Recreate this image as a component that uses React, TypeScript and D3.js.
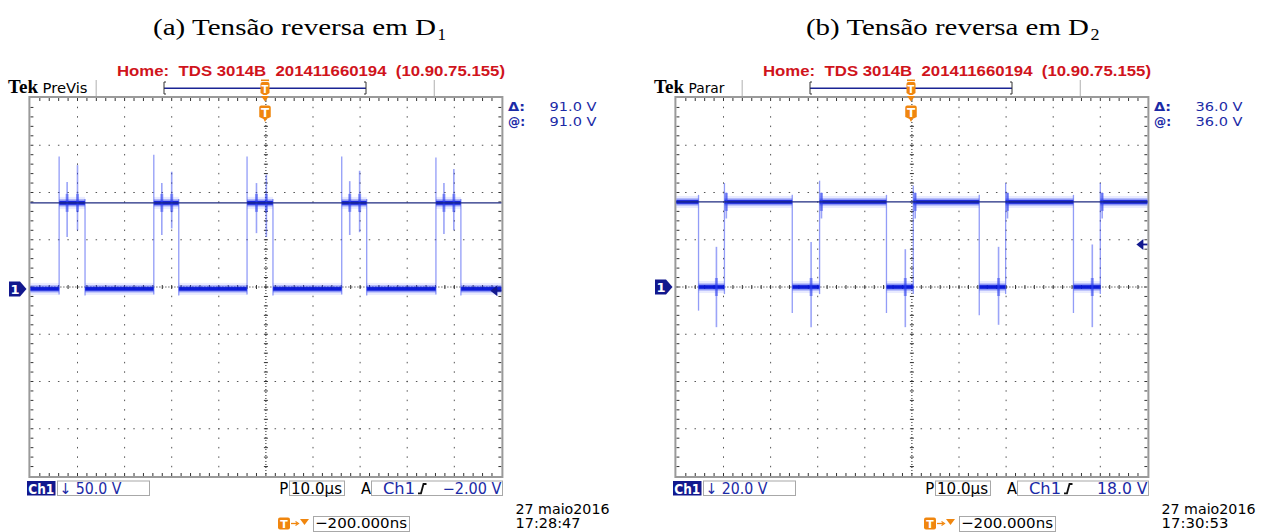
import React from "react";
import * as d3 from "d3";

type Interval = [number, number];
type Spike = [number, number, number]; // time (µs), top (V), bottom (V)

// ---------- Panel (a): reverse voltage on D1, 50 V/div, 10 µs/div ----------
const titleA = "(a) Tensão reversa em D";
const subA = "1";
const pulsesA: Interval[] = [[6.1, 11.6], [26.2, 31.5], [46.0, 51.5], [66.1, 71.4], [86.1, 91.4]];
const highA = 91;
const voltsPerDivA = 50;
const edgesA: Spike[] = [
  [6.1, 140, -6], [11.6, 95, -7],
  [26.2, 142, -6], [31.5, 95, -7],
  [46.0, 140, -6], [51.5, 95, -7],
  [66.1, 140, -6], [71.4, 95, -7],
  [86.1, 139, -6], [91.4, 95, -7],
];
const ringA: Spike[] = [
  [7.8, 113, 55], [10.0, 131, 62],
  [27.9, 112, 57], [30.0, 124, 64],
  [48.0, 112, 59], [50.1, 121, 55],
  [67.8, 114, 57], [69.9, 125, 60],
  [87.8, 112, 58], [89.9, 127, 62],
];
const cursorA = "91.0 V";
const scaleA = "50.0 V";
const trigA = "\u22122.00 V";
const trigLevelA = -2;
const statusA = "PreVis";
const dateA = "27 maio2016";
const timeA = "17:28:47";

// ---------- Panel (b): reverse voltage on D2, 20 V/div, 10 µs/div ----------
const titleB = "(b) Tensão reversa em D";
const subB = "2";
const lowsB: Interval[] = [[4.7, 10.2], [24.6, 30.4], [44.6, 50.3], [64.3, 69.9], [84.3, 90.0]];
const highB = 36;
const voltsPerDivB = 20;
const edgesB: Spike[] = [
  [4.7, 39, -10], [10.2, 44, -3],
  [24.6, 39, -11], [30.4, 45, -3],
  [44.6, 39, -11], [50.3, 43, -3],
  [64.3, 39, -12], [69.9, 44, -3],
  [84.3, 39, -11], [90.0, 44, -3],
];
const ringB: Spike[] = [
  [8.5, 17, -17], [10.6, 40, 29],
  [28.6, 19, -17], [30.8, 40, 29],
  [48.6, 16, -17], [50.7, 40, 29],
  [68.4, 17, -16], [70.3, 40, 29],
  [88.3, 18, -17], [90.4, 40, 29],
];
const cursorB = "36.0 V";
const scaleB = "20.0 V";
const trigB = "18.0 V";
const trigLevelB = 18;
const statusB = "Parar";
const dateB = "27 maio2016";
const timeB = "17:30:53";

// ---------- shared scope labels ----------
const header = "Home:  TDS 3014B  201411660194  (10.90.75.155)";
const timebase = "10.0\u00b5s";
const delay = "\u2212200.000ns";
const timeSpan: Interval = [0, 100];

const ORANGE = "#f0860e";
const NAVY = "#12188e";
const BLUE = "#1b2aa6";
const UI = "'DejaVu Sans', sans-serif";

function complement(iv: Interval[], t0: number, t1: number): Interval[] {
  const out: Interval[] = [];
  let cur = t0;
  for (const [a, b] of iv) {
    out.push([cur, a]);
    cur = b;
  }
  out.push([cur, t1]);
  return out;
}

function Txt(props: {
  x: number; y: number; t: string; len?: number; size: number; fill?: string;
  weight?: string | number; family?: string; anchor?: string;
}) {
  const { x, y, t, len, size, fill = "#000", weight = "normal", family = UI, anchor = "start" } = props;
  return (
    <text x={x} y={y} fontSize={size} fill={fill} fontWeight={weight} fontFamily={family}
      textAnchor={anchor} textLength={len} lengthAdjust={len ? "spacingAndGlyphs" : undefined}
      style={{ whiteSpace: "pre" }}>
      {t}
    </text>
  );
}

function TTag(props: { cx: number; top: number; w: number; h: number; point: number; size: number }) {
  const { cx, top, w, h, point, size } = props;
  const l = cx - w / 2, r = cx + w / 2, b = top + h;
  const d = `M${l + 2},${top} H${r - 2} Q${r},${top} ${r},${top + 2} V${b - 2} L${cx + 1.5},${b} L${cx},${b + point} L${cx - 1.5},${b} L${l},${b - 2} V${top + 2} Q${l},${top} ${l + 2},${top} Z`;
  return (
    <g>
      <path d={d} fill={ORANGE} />
      <text x={cx} y={top + h - 2.2} fontSize={size} fill="#fff" fontWeight="bold" fontFamily={UI} textAnchor="middle">T</text>
    </g>
  );
}

interface PanelProps {
  ox: number;
  highs: Interval[];
  lows: Interval[];
  highV: number;
  vdiv: number;
  groundDiv: number;
  edges: Spike[];
  ring: Spike[];
  cursor: string;
  scale: string;
  trig: string;
  trigV: number;
  status: string;
  statusLen: number;
  date: string;
  time: string;
  timeLen: number;
}

function Panel(p: PanelProps) {
  const { ox } = p;
  const gx = d3.scaleLinear().domain([0, 10]).range([30.4 + ox, 501.4 + ox]);
  const gy = d3.scaleLinear().domain([-4, 4]).range([476, 98]);
  const x = d3.scaleLinear().domain(timeSpan).range(gx.range() as [number, number]);
  const y = (v: number) => gy(v / p.vdiv + p.groundDiv);
  const levelAt = (t: number) => (p.highs.some(([a, b]) => t >= a - 0.05 && t <= b + 0.05) ? p.highV : 0);

  const minorY = d3.range(1, 40).map((k) => -4 + k / 5);
  const minorX = d3.range(1, 50).map((k) => k / 5);
  const majorX = d3.range(1, 10).filter((i) => i !== 5);
  const majorY = d3.range(-3, 4).filter((j) => j !== 0);

  const dots: JSX.Element[] = [];
  majorX.forEach((i) =>
    minorY.forEach((m, k) =>
      dots.push(<rect key={`v${i}-${k}`} x={gx(i) - 0.5} y={gy(m) - 0.75} width={1} height={1.5} fill="#555" />)
    )
  );
  majorY.forEach((j) =>
    minorX.forEach((m, k) =>
      dots.push(<rect key={`h${j}-${k}`} x={gx(m) - 0.75} y={gy(j) - 0.5} width={1.5} height={1} fill="#555" />)
    )
  );

  const ticks: JSX.Element[] = [];
  minorX.forEach((m, k) => {
    ticks.push(<line key={`tt${k}`} x1={gx(m)} x2={gx(m)} y1={gy(4)} y2={gy(4) + 3} />);
    ticks.push(<line key={`tb${k}`} x1={gx(m)} x2={gx(m)} y1={gy(-4) - 3} y2={gy(-4)} />);
    ticks.push(<line key={`tc${k}`} x1={gx(m)} x2={gx(m)} y1={gy(0) - 2} y2={gy(0) + 2} />);
  });
  minorY.forEach((m, k) => {
    ticks.push(<line key={`tl${k}`} x1={gx(0)} x2={gx(0) + 3} y1={gy(m)} y2={gy(m)} />);
    ticks.push(<line key={`tr${k}`} x1={gx(10) - 3} x2={gx(10)} y1={gy(m)} y2={gy(m)} />);
    ticks.push(<line key={`tv${k}`} x1={gx(5) - 2} x2={gx(5) + 2} y1={gy(m)} y2={gy(m)} />);
  });

  const band = (segs: Interval[], v: number, key: string) =>
    segs.map(([a, b], i) => {
      const x0 = x(a), w = x(b) - x(a), yy = y(v);
      return (
        <g key={`${key}${i}`}>
          <rect x={x0} y={yy - 6} width={w} height={12} fill="#5566ff" opacity={0.13} />
          <rect x={x0} y={yy - 3.5} width={w} height={7} fill="#2236ee" opacity={0.45} />
          <rect x={x0} y={yy - 1.8} width={w} height={3.6} fill="#0616d6" opacity={0.95} />
        </g>
      );
    });

  const sx = (v: number) => v + ox;
  const trigY = y(p.trigV);

  return (
    <g>
      {/* top status bar */}
      <Txt x={sx(8)} y={93.3} t="Tek" len={30} size={18} weight="bold" family="'Liberation Serif', serif" />
      <Txt x={sx(42.5)} y={92.5} t={p.status} len={p.statusLen} size={13.5} />
      <line x1={sx(96.2)} x2={sx(96.2)} y1={80} y2={98} stroke="#bdbdbd" strokeWidth={1.2} />
      <line x1={sx(434.3)} x2={sx(434.3)} y1={80} y2={98} stroke="#bdbdbd" strokeWidth={1.2} />
      <Txt x={sx(117)} y={75.5} t={header} len={388} size={15} weight="bold" fill="#d0141c" family="'Liberation Sans', Arial, sans-serif" />
      <line x1={sx(164)} x2={sx(366)} y1={88.3} y2={88.3} stroke="#1a2494" strokeWidth={1.4} />
      <path d={`M${sx(166)},82 H${sx(164)} V94 H${sx(166)}`} fill="none" stroke="#333" strokeWidth={1} />
      <path d={`M${sx(364)},82 H${sx(366)} V94 H${sx(364)}`} fill="none" stroke="#333" strokeWidth={1} />

      {/* graticule */}
      <g>{dots}</g>
      <line x1={gx(5)} x2={gx(5)} y1={gy(4)} y2={gy(-4)} stroke="#222" strokeWidth={1} strokeDasharray="1 2" />
      <line x1={gx(0)} x2={gx(10)} y1={gy(0)} y2={gy(0)} stroke="#222" strokeWidth={1} strokeDasharray="1 2" />
      <g stroke="#333" strokeWidth={1}>{ticks}</g>
      <rect x={gx(0) - 1} y={gy(4) - 1} width={gx(10) - gx(0) + 2} height={gy(-4) - gy(4) + 2} fill="none" stroke="#9a9a9a" strokeWidth={2} />

      {/* trigger position markers */}
      <rect x={sx(261)} y={79.5} width={8} height={1.6} fill={ORANGE} />
      <TTag cx={sx(265)} top={82} w={9} h={13} point={0} size={10} />
      <path d={`M${sx(261)},96 L${sx(269)},96 L${sx(265)},101.5 Z`} fill={ORANGE} />
      <TTag cx={sx(265)} top={105.5} w={11.5} h={13.5} point={3} size={12} />

      {/* waveform */}
      <g>
        {band(p.lows, 0, "lo")}
        {band(p.highs, p.highV, "hi")}
      </g>
      <g stroke="#3a4cf2" strokeWidth={1.3} opacity={0.55}>
        {p.edges.map(([t, top, bot], i) => (
          <line key={`e${i}`} x1={x(t)} x2={x(t)} y1={y(top)} y2={y(bot)} />
        ))}
      </g>
      <g>
        {p.ring.map(([t, top, bot], i) => {
          const lv = y(levelAt(t));
          return (
            <g key={`r${i}`}>
              <line x1={x(t)} x2={x(t)} y1={y(top)} y2={y(bot)} stroke="#3a4cf2" strokeWidth={1.6} opacity={0.5} />
              <rect x={x(t) - 1.5} y={lv - 9} width={3} height={18} fill="#2236ee" opacity={0.45} />
            </g>
          );
        })}
      </g>
      {/* cursor line */}
      <line x1={gx(0)} x2={gx(10)} y1={y(p.highV)} y2={y(p.highV)} stroke="#1e2a80" strokeWidth={1.3} />

      {/* channel ground marker */}
      <path d={`M${sx(9)},${y(0) - 7.5} H${sx(20)} L${sx(26.5)},${y(0)} L${sx(20)},${y(0) + 7.5} H${sx(9)} Z`} fill={NAVY} />
      <text x={sx(15)} y={y(0) + 5} fontSize={13} fontWeight="bold" fill="#fff" fontFamily={UI} textAnchor="middle">1</text>
      {/* trigger level marker */}
      <path d={`M${gx(10) - 11},${trigY} L${gx(10) - 4},${trigY - 5.5} L${gx(10) - 4},${trigY + 5.5} Z`} fill={NAVY} />
      <line x1={gx(10) - 5} x2={gx(10)} y1={trigY} y2={trigY} stroke={NAVY} strokeWidth={1.8} />

      {/* cursor readout */}
      <Txt x={sx(508)} y={111} t={"\u0394:"} len={17} size={12.5} fill={BLUE} weight="bold" />
      <Txt x={sx(596.5)} y={111} t={p.cursor} len={47} size={12.5} fill={BLUE} anchor="end" />
      <Txt x={sx(508)} y={126} t="@:" len={17} size={12.5} fill={BLUE} weight="bold" />
      <Txt x={sx(596.5)} y={126} t={p.cursor} len={47} size={12.5} fill={BLUE} anchor="end" />

      {/* bottom readouts */}
      <rect x={sx(27)} y={481} width={28.5} height={14.5} fill={NAVY} />
      <Txt x={sx(28.3)} y={494.3} t="Ch1" len={26} size={14.5} fill="#fff" weight="bold" />
      <rect x={sx(57.5)} y={481} width={92} height={14.5} fill="none" stroke="#a8a8a8" strokeWidth={1} />
      <Txt x={sx(59.5)} y={494} t={`\u2193 ${p.scale}`} len={62} size={15} fill={BLUE} />

      <Txt x={sx(279.3)} y={494.3} t="P" len={9} size={15} />
      <rect x={sx(289.5)} y={481} width={55} height={14.5} fill="none" stroke="#a8a8a8" strokeWidth={1} />
      <Txt x={sx(291)} y={494} t={timebase} len={51} size={15} />

      <Txt x={sx(361)} y={494.3} t="A" len={10} size={15} />
      <rect x={sx(371.5)} y={481} width={131} height={14.5} fill="none" stroke="#a8a8a8" strokeWidth={1} />
      <Txt x={sx(383)} y={494} t="Ch1" len={32} size={15} fill={BLUE} />
      <path d={`M${sx(418)},493.3 H${sx(421)} L${sx(423.5)},484 H${sx(426.5)}`} fill="none" stroke="#111" strokeWidth={1.8} />
      <Txt x={sx(501.5)} y={494} t={p.trig} len={p.trig.length * 8.4} size={15} fill={BLUE} anchor="end" />

      <rect x={sx(278)} y={517.5} width={12} height={12} rx={2} fill={ORANGE} />
      <text x={sx(284)} y={527.8} fontSize={11} fontWeight="bold" fill="#fff" fontFamily={UI} textAnchor="middle">T</text>
      <line x1={sx(291)} x2={sx(297.5)} y1={523.5} y2={523.5} stroke={ORANGE} strokeWidth={1.3} />
      <path d={`M${sx(295.5)},521.5 L${sx(298.5)},523.5 L${sx(295.5)},525.5`} fill="none" stroke={ORANGE} strokeWidth={1.2} />
      <path d={`M${sx(300)},519 H${sx(309)} L${sx(304.5)},525 Z`} fill={ORANGE} />
      <rect x={sx(313.5)} y={516.5} width={96} height={15} fill="none" stroke="#a8a8a8" strokeWidth={1} />
      <Txt x={sx(315)} y={528.4} t={delay} len={92} size={14.5} />

      <Txt x={sx(515.5)} y={513.5} t={p.date} len={94} size={14.5} />
      <Txt x={sx(515.5)} y={528.3} t={p.time} len={p.timeLen} size={14.5} />
    </g>
  );
}

export default function App() {
  const lowsA = complement(pulsesA, timeSpan[0], timeSpan[1]);
  const highsB = complement(lowsB, timeSpan[0], timeSpan[1]);
  const serif = "'Liberation Serif', 'Times New Roman', serif";
  return (
    <svg width={1269} height={532} style={{ position: "absolute", left: 0, top: 0, background: "#fff" }}>
      <rect width={1269} height={532} fill="#fff" />
      <Txt x={153} y={35} t={titleA} len={283} size={23} family={serif} />
      <Txt x={437.5} y={40} t={subA} len={8.5} size={16} family={serif} />
      <Txt x={806} y={35} t={titleB} len={283} size={23} family={serif} />
      <Txt x={1090.5} y={40} t={subB} len={9} size={16} family={serif} />

      <Panel ox={0} highs={pulsesA} lows={lowsA} highV={highA} vdiv={voltsPerDivA} groundDiv={-0.04}
        edges={edgesA} ring={ringA} cursor={cursorA} scale={scaleA} trig={trigA} trigV={trigLevelA}
        status={statusA} statusLen={45} date={dateA} time={timeA} timeLen={65} />
      <Panel ox={646} highs={highsB} lows={lowsB} highV={highB} vdiv={voltsPerDivB} groundDiv={0}
        edges={edgesB} ring={ringB} cursor={cursorB} scale={scaleB} trig={trigB} trigV={trigLevelB}
        status={statusB} statusLen={36} date={dateB} time={timeB} timeLen={67} />
    </svg>
  );
}
